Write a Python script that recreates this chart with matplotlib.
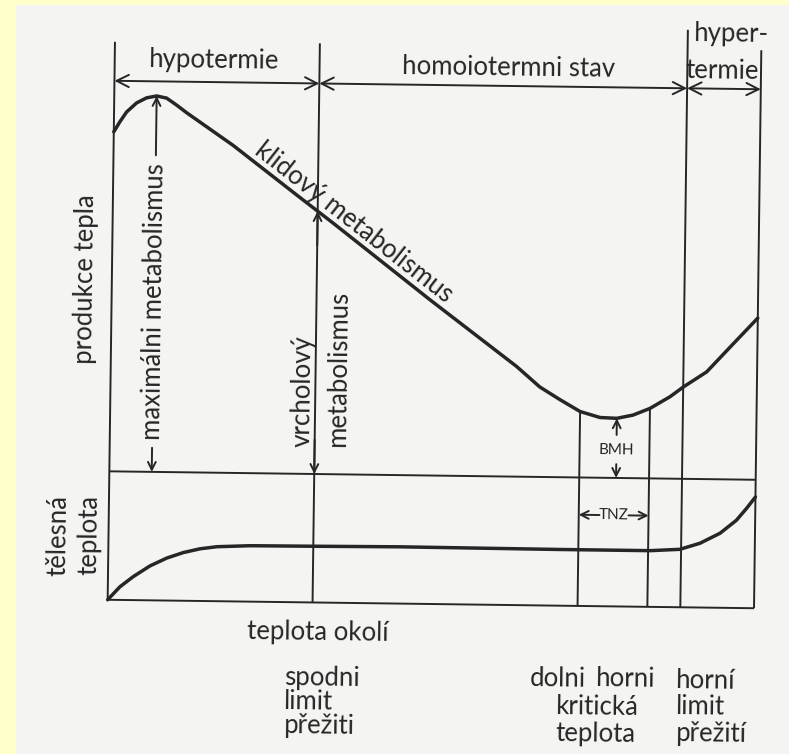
import numpy as np
import matplotlib.pyplot as plt
from matplotlib.patches import FancyArrowPatch, Rectangle
from matplotlib.transforms import Affine2D

plt.rcParams['font.family'] = ['Lato', 'DejaVu Sans']

# x = ambient temperature, y = heat production / body temperature
# (relative units: x 0..100 across the frame, y 0..100 bottom to top)
heat_x = [0, 0.94, 1.95, 3.48, 5.01, 6.56, 8.11, 9.67, 11.23, 18.5, 28.9, 34.1,
          49.3, 62.8, 66.4, 69.6, 72.7, 75.8, 78.4, 80.9, 83.5, 86.6, 88.6,
          92.2, 95.8, 100]
heat_y = [81.6, 83.4, 85.1, 86.7, 87.6, 87.95, 87.6, 86.4, 85.1, 79.5, 70.6, 66.2,
          53.0, 41.6, 38.1, 35.9, 33.9, 32.9, 32.8, 33.4, 34.6, 36.7, 38.4,
          41.1, 45.5, 50.6]

body_x = [0, 1.88, 3.92, 6.48, 9.05, 11.6, 14.2, 16.8, 21.9, 31.2, 45.1, 69.9,
          83.8, 88.4, 91.5, 94.6, 97.1, 98.65, 100]
body_y = [0, 2.3, 4.1, 6.0, 7.4, 8.4, 9.1, 9.5, 9.75, 9.8, 9.9, 9.8,
          9.8, 10.1, 11.2, 13.0, 15.3, 17.4, 19.4]

# boundaries on the ambient temperature axis
lower_limit = 31.7      # spodni limit preziti
lower_crit = 72.7       # dolni kriticka teplota
upper_crit = 83.5       # horni kriticka teplota
upper_limit = 88.6      # horni limit preziti

zone_edges = [0, lower_limit, upper_limit, 100]
zone_names = ["hypotermie", "homoiotermni stav", ""]

panel_split = 22.4      # heat production above, body temperature below
zone_line_y = 90.5

INK = '#262626'
PAGE = '#f4f4f2'
FS = 18.5

fig = plt.figure(figsize=(7.89, 7.54), dpi=100)
fig.patch.set_facecolor('#ffffcc')
fig.add_artist(Rectangle((16 / 789, 0), 1, 1 - 5 / 754, transform=fig.transFigure,
                         facecolor=PAGE, edgecolor='none', zorder=0))

ax = fig.add_axes([110.6 / 789, 150.5 / 754, 646.4 / 789, 573.5 / 754])
ax.set_xlim(0, 100)
ax.set_ylim(0, 100)
ax.axis('off')

# the printed figure sits slightly skewed on the page
TILT = -0.75
T = ax.transData + Affine2D().rotate_deg_around(394, 377, TILT)


def seg(xs, ys, lw=1.4):
    ax.plot(xs, ys, color=INK, lw=lw, transform=T, clip_on=False,
            solid_capstyle='butt')


def arrow(p0, p1, style='->', scale=14):
    ax.add_patch(FancyArrowPatch(p0, p1, arrowstyle=style, mutation_scale=scale,
                                 color=INK, lw=1.4, shrinkA=0, shrinkB=0,
                                 transform=T, clip_on=False))


def label(x, y, s, rot=0, size=FS, **kw):
    ax.text(x, y, s, rotation=rot + TILT, fontsize=size, color=INK, transform=T,
            clip_on=False, rotation_mode='anchor', **kw)


# frame and boundary lines
seg([0, 0], [0, 97.3])
seg([0, 100], [0, 0])
seg([0, 100], [panel_split, panel_split])
seg([lower_limit, lower_limit], [0, 97.5])
for xb in (lower_crit, upper_crit):
    seg([xb, xb], [0, np.interp(xb, heat_x, heat_y)])
seg([upper_limit, upper_limit], [0, 100.7])
seg([100, 100], [0, 97.3])

# zone ranges along the top
for x0, x1 in zip(zone_edges[:-1], zone_edges[1:]):
    arrow((x0, zone_line_y), (x1, zone_line_y), '<->', scale=22)
label(15.3, 93.0, zone_names[0], ha='center', va='baseline')
label(60.9, 92.4, zone_names[1], ha='center', va='baseline')
label(95.3, 98.7, "hyper-", ha='center', va='baseline')
label(94.0, 92.3, "termie", ha='center', va='baseline')

# curves
ax.plot(heat_x, heat_y, color=INK, lw=2.5, transform=T, clip_on=False,
        solid_capstyle='round', solid_joinstyle='round')
ax.plot(body_x, body_y, color=INK, lw=2.5, transform=T, clip_on=False,
        solid_capstyle='round', solid_joinstyle='round')

# resting metabolism written along the falling branch
kx = 36.2
label(kx, np.interp(kx, heat_x, heat_y) + 0.3, "klidový metabolismus",
      rot=-37.3, size=18.5, ha='center', va='bottom')

# maximal metabolism at the peak of heat production
ipk = int(np.argmax(heat_y))
px, py = heat_x[ipk], heat_y[ipk]
arrow((px, 77.6), (px, py))
arrow((px, 26.6), (px, panel_split))
label(px, 52.1, "maximálni metabolismus", rot=90, ha='center', va='center')

# summit metabolism at the lower survival limit
yl = np.interp(lower_limit, heat_x, heat_y)
arrow((lower_limit, yl - 6), (lower_limit, yl))
arrow((lower_limit, panel_split + 6), (lower_limit, panel_split))
label(29.75, 27.1, "vrcholový", rot=90, ha='left', va='center')
label(35.3, 27.2, "metabolismus", rot=90, ha='left', va='center')

# basal metabolic rate in the thermoneutral zone
imin = int(np.argmin(heat_y))
mx, my = heat_x[imin], heat_y[imin]
arrow((mx, 29.9), (mx, my))
arrow((mx, 24.8), (mx, panel_split))
label(mx, 27.3, "BMH", size=11, ha='center', va='center')
tnz_y = 15.9
label((lower_crit + upper_crit) / 2, tnz_y, "TNZ", size=11, ha='center', va='center')
arrow((75.9, tnz_y), (lower_crit, tnz_y))
arrow((80.4, tnz_y), (upper_crit, tnz_y))

# axis titles
label(-4.0, 55.9, "produkce tepla", rot=90, ha='center', va='center')
label(-7.8, 4.0, "tělesná", rot=90, ha='left', va='center')
label(-3.0, 4.25, "teplota", rot=90, ha='left', va='center')
label(21.6, -6.5, "teplota okolí", ha='left', va='baseline')

# boundary names below the frame (anchored at the last line's baseline)
label(27.4, -23.0, "spodni\nlimit\npřežiti", ha='left', va='baseline',
      linespacing=0.94)
label(65.5, -14.1, "dolni", ha='left', va='baseline')
label(75.6, -13.9, "horni", ha='left', va='baseline')
label(69.5, -23.3, "kritická\nteplota", ha='left', va='baseline',
      linespacing=1.08)
label(88.0, -23.0, "horní\nlimit\npřežití", ha='left', va='baseline',
      linespacing=1.08)

fig.savefig('out.png', dpi=100, facecolor=fig.get_facecolor())
